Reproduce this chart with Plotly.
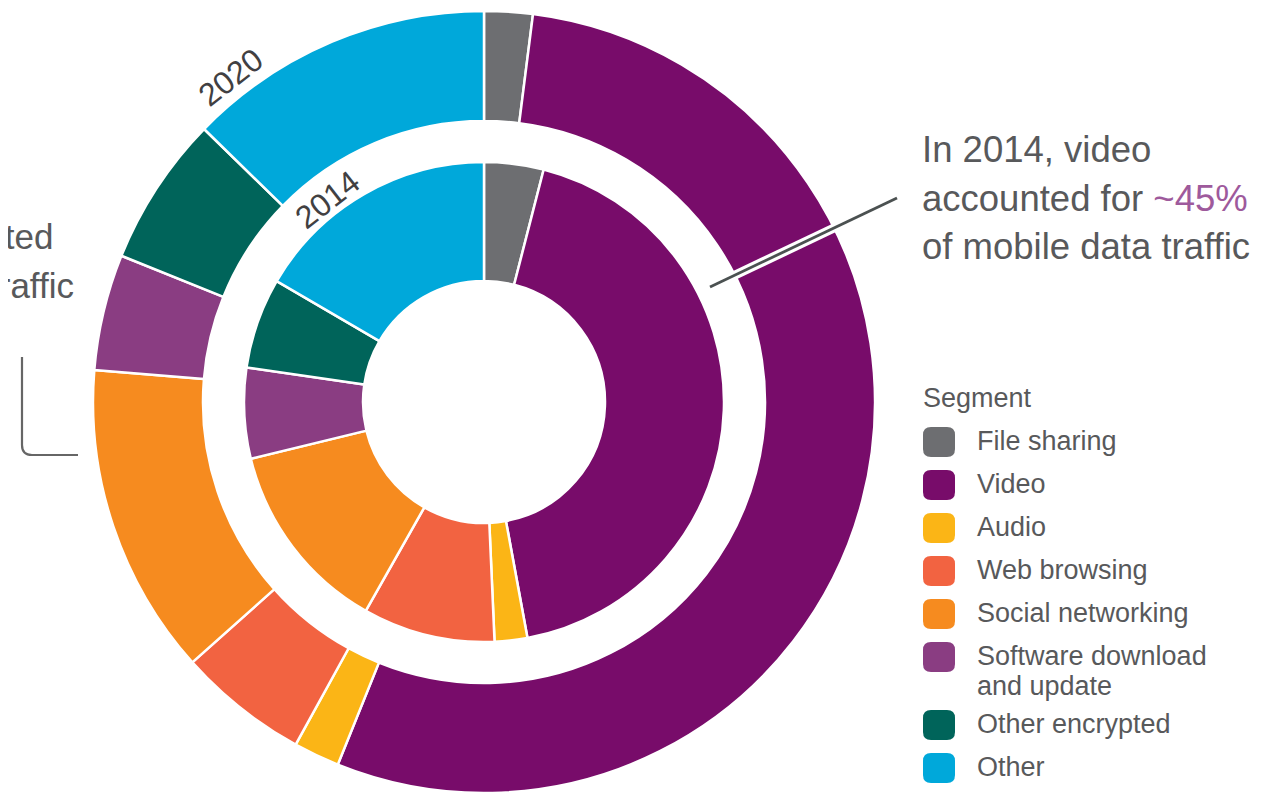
import plotly.graph_objects as go

W, H = 1263, 793
OFF = 8  # page body margin offset of the written html

# ---- data ----
segments = ["File sharing", "Video", "Audio", "Web browsing", "Social networking",
            "Software download and update", "Other encrypted", "Other"]
legend_labels = ["File sharing", "Video", "Audio", "Web browsing", "Social networking",
                 "Software download<br>and update", "Other encrypted", "Other"]
share_2014 = [4.0, 43.1, 2.2, 8.9, 13.0, 6.1, 6.1, 16.6]
share_2020 = [2.0, 54.1, 1.9, 5.4, 12.9, 4.8, 6.2, 12.7]
colors = ["#6d6e71", "#780c6a", "#fbb516", "#f26341", "#f68b1f",
          "#8a3d82", "#00645a", "#00a8da"]

TXT = "#58595b"
FONT = "Liberation Sans, Arial, sans-serif"


def px(x):
    return (x - OFF) / W


def py(y):
    return 1 - (y - OFF) / H


# ring geometry in page pixels
cx, cy = 484, 402
R_out, r_out_in = 391, 281
R_in, r_in_in = 240, 121


def dom(R):
    return dict(x=[px(cx - R), px(cx + R)], y=[py(cy + R), py(cy - R)])


fig = go.Figure()
fig.add_trace(go.Pie(
    labels=segments, values=share_2020, name="2020", sort=False,
    direction="clockwise", rotation=0, hole=r_out_in / R_out,
    marker=dict(colors=colors, line=dict(color="white", width=2.5)),
    textinfo="none", showlegend=False, domain=dom(R_out),
))
fig.add_trace(go.Pie(
    labels=segments, values=share_2014, name="2014", sort=False,
    direction="clockwise", rotation=0, hole=r_in_in / R_in,
    marker=dict(colors=colors, line=dict(color="white", width=2.5)),
    textinfo="none", showlegend=False, domain=dom(R_in),
))

annotations = []
shapes = []

# ring year labels
for t, x, y in (("2020", 231, 77), ("2014", 327, 200)):
    annotations.append(dict(x=px(x), y=py(y), xref="paper", yref="paper", text=t,
                            showarrow=False, textangle=-38, xanchor="center",
                            yanchor="middle",
                            font=dict(size=32, color="#414042", family=FONT)))

# right callout text
callout = ["In 2014, video",
           "accounted for <span style='color:#9e5a9c'>~45%</span>",
           "of mobile data traffic"]
for i, t in enumerate(callout):
    annotations.append(dict(x=px(920), y=py(150 + 48 * i), xref="paper", yref="paper",
                            text=t, showarrow=False, xanchor="left", yanchor="middle",
                            font=dict(size=36.5, color=TXT, family=FONT)))

# left (cropped) callout text
left_lines = [("accounted", 56, 236), ("traffic", 76, 285)]
for t, xr, yc in left_lines:
    annotations.append(dict(x=px(xr), y=py(yc), xref="paper", yref="paper", text=t,
                            showarrow=False, xanchor="right", yanchor="middle",
                            font=dict(size=35, color=TXT, family=FONT)))

# callout line (with white halo)
for col, wd in (("white", 9), ("#4b5151", 2.8)):
    shapes.append(dict(type="line", xref="paper", yref="paper",
                       x0=px(710), y0=py(287), x1=px(897), y1=py(198),
                       line=dict(color=col, width=wd)))

# left bracket
bp = (f"M {px(22)},{py(357)} L {px(22)},{py(445)} "
      f"Q {px(22)},{py(455)} {px(32)},{py(455)} L {px(78)},{py(455)}")
shapes.append(dict(type="path", xref="paper", yref="paper", path=bp,
                   line=dict(color="#666666", width=2.2)))

# legend
annotations.append(dict(x=px(921), y=py(398), xref="paper", yref="paper", text="Segment",
                        showarrow=False, xanchor="left", yanchor="middle",
                        font=dict(size=27, color=TXT, family=FONT)))


def rrect(x0, y0, x1, y1, r):
    p = [f"M {px(x0 + r)},{py(y0)}", f"L {px(x1 - r)},{py(y0)}",
         f"Q {px(x1)},{py(y0)} {px(x1)},{py(y0 + r)}", f"L {px(x1)},{py(y1 - r)}",
         f"Q {px(x1)},{py(y1)} {px(x1 - r)},{py(y1)}", f"L {px(x0 + r)},{py(y1)}",
         f"Q {px(x0)},{py(y1)} {px(x0)},{py(y1 - r)}", f"L {px(x0)},{py(y0 + r)}",
         f"Q {px(x0)},{py(y0)} {px(x0 + r)},{py(y0)} Z"]
    return " ".join(p)


y = 442
for lab, col in zip(legend_labels, colors):
    shapes.append(dict(type="path", xref="paper", yref="paper",
                       path=rrect(923, y - 15, 955, y + 15, 8),
                       fillcolor=col, line=dict(width=0)))
    parts = lab.split("<br>")
    for k, part in enumerate(parts):
        annotations.append(dict(x=px(975), y=py(y - 1 + 30 * k), xref="paper", yref="paper",
                                text=part, showarrow=False, xanchor="left", yanchor="middle",
                                font=dict(size=27, color=TXT, family=FONT)))
    y += 43 + 25 * (len(parts) - 1)

fig.update_layout(width=W, height=H, margin=dict(l=0, r=0, t=0, b=0),
                  paper_bgcolor="white", plot_bgcolor="white",
                  annotations=annotations, shapes=shapes, showlegend=False)

fig.write_html("out.html")
